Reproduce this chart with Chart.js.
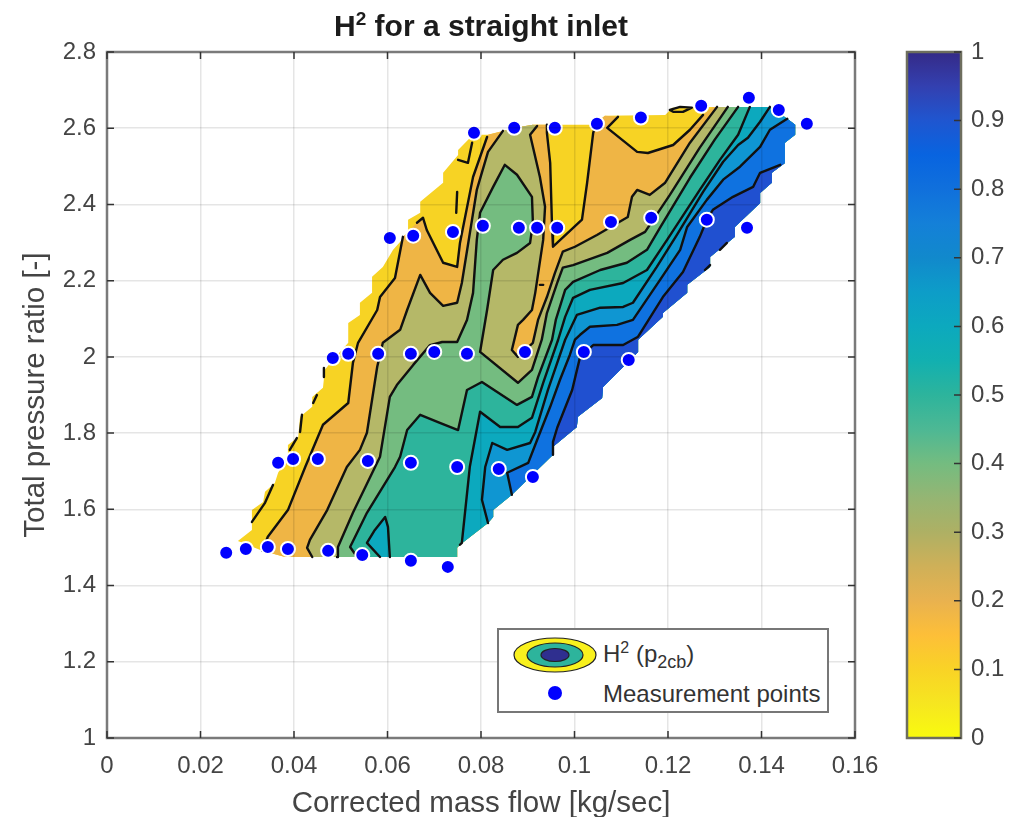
<!DOCTYPE html>
<html>
<head>
<meta charset="utf-8">
<title>H2 for a straight inlet</title>
<script src="https://cdn.jsdelivr.net/npm/chart.js@4"></script>
<style>
  html, body { margin: 0; background: #fff; }
  #page { position: relative; width: 1019px; height: 817px; overflow: hidden; font-family: "Liberation Sans", Arial, sans-serif; filter: blur(.55px); }
  canvas { position: absolute; top: 0; }
  #mapChart { left: 0; }
  #barChart { left: 880px; }
  #title { position: absolute; left: 107px; width: 748px; top: 8px; text-align: center; font-size: 30px; font-weight: bold; color: #1c1c1c; line-height: 36px; }
  #title sup { font-size: 19px; line-height: 0; }
  #legend { position: absolute; left: 497px; top: 628px; width: 328px; height: 81px; border: 2.5px solid #777; background: #fff; color: #333; font-size: 24px; }
  #legend svg { position: absolute; left: 0; top: 0; }
  #legend span { position: absolute; left: 104px; white-space: nowrap; }
  #legend sup { font-size: 16px; line-height: 0; }
  #legend sub { font-size: 18px; line-height: 0; }
</style>
</head>
<body>
<div id="page">
  <canvas id="mapChart" width="895" height="817"></canvas>
  <canvas id="barChart" width="139" height="817"></canvas>
  <div id="title">H<sup>2</sup> for a straight inlet</div>
  <div id="legend">
    <svg width="329" height="82">
      <ellipse cx="56" cy="25" rx="41" ry="17" fill="#f9f11e" stroke="#222" stroke-width="1.2"/>
      <ellipse cx="56" cy="25" rx="28" ry="12" fill="#2db49c" stroke="#222" stroke-width="1.2"/>
      <ellipse cx="56" cy="25" rx="14" ry="6.5" fill="#2f2f8f" stroke="#222" stroke-width="1.2"/>
      <circle cx="56" cy="63" r="7" fill="#0000ff"/>
    </svg>
    <span style="top:10px">H<sup>2</sup> (p<sub>2cb</sub>)</span>
    <span style="top:50px">Measurement points</span>
  </div>
</div>

<script>
/* ── Axes ──────────────────────────────────── */
const xTickValues = [0, 0.02, 0.04, 0.06, 0.08, 0.1, 0.12, 0.14, 0.16];
const yTickValues = [1, 1.2, 1.4, 1.6, 1.8, 2, 2.2, 2.4, 2.6, 2.8];
const barTickValues = [0, 0.1, 0.2, 0.3, 0.4, 0.5, 0.6, 0.7, 0.8, 0.9, 1];

/* ── Measurement points [mass flow, pressure ratio] ── */
const measured = [
  [.0255,1.486],[.0297,1.496],[.0344,1.501],[.0387,1.496],[.0473,1.491],[.0546,1.480],[.0650,1.465],[.0729,1.449],
  [.0366,1.722],[.0398,1.732],[.0451,1.732],[.0558,1.727],[.0650,1.722],[.0749,1.711],[.0838,1.706],[.0911,1.685],
  [.0483,1.997],[.0516,2.008],[.0580,2.008],[.0650,2.008],[.0700,2.013],[.0770,2.008],[.0894,2.013],[.1020,2.013],[.1116,1.992],
  [.0605,2.312],[.0655,2.318],[.0740,2.328],[.0804,2.344],[.0881,2.339],[.0920,2.339],[.0963,2.339],[.1078,2.354],[.1164,2.365],[.1283,2.360],[.1369,2.339],
  [.0785,2.588],[.0871,2.601],[.0958,2.601],[.1048,2.612],[.1142,2.628],[.1271,2.659],[.1373,2.680],[.1437,2.648],[.1497,2.612]
];

/* ── Region outline ────────────────────────── */
const edgeLeft = [
  [.0381,1.475],[.0332,1.491],[.0280,1.517],[.0310,1.546],[.0310,1.598],[.0334,1.619],[.0338,1.646],[.0359,1.669],[.0366,1.696],
  [.0387,1.738],[.0387,1.769],[.0409,1.790],[.0413,1.843],[.0439,1.869],[.0439,1.895],[.0462,1.919],[.0466,1.966],[.0483,1.992],
  [.0516,2.037],[.0516,2.089],[.0541,2.110],[.0541,2.142],[.0567,2.168],[.0567,2.210],[.0590,2.236],[.0612,2.281],[.0644,2.325],
  [.0644,2.360],[.0670,2.378],[.0670,2.407],[.0719,2.457],[.0719,2.483],[.0751,2.530],[.0751,2.543],[.0783,2.583]
];
const edgeTop = [
  [.0815,2.583],[.0847,2.593],[.0873,2.601],[.0911,2.609],[.1044,2.609],[.1065,2.633],[.1194,2.635],[.1209,2.654],[.1296,2.656]
];
const edgeRight = [
  [.1305,2.656],[.1328,2.656],[.1350,2.656],[.1375,2.656],[.1418,2.656],[.1455,2.625],[.1472,2.609],[.1472,2.583],[.1450,2.562],
  [.1450,2.509],[.1422,2.483],[.1422,2.457],[.1397,2.430],[.1397,2.404],[.1343,2.341],[.1343,2.315],[.1290,2.262],[.1290,2.236],
  [.1241,2.189],[.1241,2.168],[.1189,2.115],[.1189,2.105],[.1136,2.045],[.1136,2.013],[.1061,1.921],[.1059,1.892],[.1007,1.843],
  [.1005,1.816],[.0954,1.764],[.0954,1.743],[.0866,1.638],[.0826,1.598],[.0826,1.580],[.0815,1.564],[.0755,1.507],[.0749,1.499],[.0749,1.475]
];

/* ── Contour paths ─────────────────────────── */
const c1a = [[.0332,1.491],[.0344,1.528],[.0387,1.598],[.0424,1.711],[.0462,1.822],[.0516,1.879],[.0526,1.984],[.0537,2.037],[.0578,2.123],[.0584,2.157],[.0616,2.207],[.0633,2.315]];
const c1b = [[.0663,2.352],[.0676,2.365],[.0684,2.333],[.0719,2.247],[.0749,2.236],[.0755,2.299],[.0783,2.472],[.0813,2.577]];
const c1c = [[.0941,2.609],[.0941,2.588],[.0948,2.509],[.0952,2.341],[.0954,2.289],[.1016,2.360],[.1027,2.457],[.1040,2.588],[.1048,2.617]];
const c1d = [[.1093,2.630],[.1070,2.601],[.1134,2.538],[.1157,2.535],[.1211,2.556],[.1247,2.596],[.1275,2.635]];
const c2a = [[.0439,1.475],[.0428,1.499],[.0434,1.520],[.0471,1.598],[.0513,1.711],[.0541,1.756],[.0556,1.801],[.0578,1.974],[.0590,2.037],[.0627,2.071],[.0642,2.123],[.0670,2.215],[.0691,2.168],[.0719,2.134],[.0749,2.142],[.0759,2.194],[.0791,2.438],[.0815,2.538],[.0847,2.593]];
const c2b = [[.0920,2.606],[.0905,2.583],[.0926,2.472],[.0937,2.394],[.0933,2.307],[.0916,2.168],[.0909,2.123],[.0890,2.097],[.0879,2.084],[.0866,2.018],[.0879,2.000],[.0911,2.037],[.0922,2.097],[.0941,2.157],[.0958,2.220],[.0975,2.276],[.1001,2.289],[.1048,2.320],[.1114,2.367],[.1123,2.420],[.1134,2.438],[.1161,2.425],[.1194,2.457],[.1247,2.562],[.1305,2.656]];
const c3 = [[.0492,1.475],[.0494,1.501],[.0526,1.591],[.0584,1.738],[.0605,1.895],[.0620,1.926],[.0655,1.979],[.0691,2.031],[.0717,2.039],[.0749,2.039],[.0770,2.097],[.0783,2.168],[.0791,2.307],[.0798,2.378],[.0826,2.446],[.0851,2.504],[.0877,2.478],[.0909,2.420],[.0911,2.352],[.0905,2.299],[.0877,2.273],[.0847,2.255],[.0826,2.228],[.0813,2.123],[.0798,2.013],[.0879,1.932],[.0909,1.966],[.0930,2.045],[.0941,2.115],[.0963,2.194],[.0975,2.234],[.0997,2.241],[.1070,2.273],[.1119,2.307],[.1151,2.328],[.1204,2.425],[.1268,2.549],[.1328,2.656]];
const c4 = [[.0535,1.475],[.0520,1.501],[.0556,1.591],[.0616,1.711],[.0627,1.738],[.0642,1.808],[.0670,1.848],[.0712,1.827],[.0751,1.808],[.0770,1.913],[.0802,1.934],[.0877,1.874],[.0909,1.895],[.0922,1.947],[.0952,2.045],[.0960,2.097],[.0980,2.176],[.0997,2.197],[.1055,2.228],[.1112,2.247],[.1155,2.281],[.1183,2.339],[.1247,2.470],[.1300,2.570],[.1350,2.656]];
const c5 = [[.0755,1.507],[.0759,1.512],[.0776,1.711],[.0798,1.856],[.0841,1.816],[.0879,1.816],[.0909,1.840],[.0933,1.932],[.0965,2.045],[.0980,2.105],[.0997,2.155],[.1033,2.176],[.1104,2.194],[.1155,2.228],[.1198,2.307],[.1268,2.438],[.1311,2.517],[.1350,2.583],[.1375,2.656]];
const c6 = [[.0815,1.564],[.0802,1.625],[.0809,1.711],[.0824,1.774],[.0856,1.756],[.0905,1.774],[.0916,1.803],[.0943,1.913],[.0980,2.045],[.1005,2.110],[.1055,2.129],[.1104,2.131],[.1125,2.142],[.1176,2.236],[.1219,2.320],[.1275,2.433],[.1318,2.512],[.1350,2.556],[.1371,2.575],[.1397,2.617],[.1418,2.656]];
const c7 = [[.0866,1.638],[.0856,1.696],[.0901,1.722],[.0920,1.782],[.0948,1.869],[.0969,1.940],[.0990,2.005],[.1001,2.045],[.1012,2.058],[.1033,2.079],[.1091,2.084],[.1125,2.097],[.1183,2.202],[.1226,2.281],[.1241,2.341],[.1283,2.412],[.1318,2.465],[.1354,2.499],[.1397,2.551],[.1418,2.596],[.1455,2.625]];
const c8 = [[.0954,1.743],[.0954,1.777],[.0963,1.814],[.0995,1.913],[.1012,2.000],[.1040,2.031],[.1104,2.031],[.1136,2.053],[.1189,2.157],[.1232,2.223],[.1268,2.315],[.1283,2.360],[.1296,2.386],[.1339,2.420],[.1382,2.446],[.1397,2.483],[.1440,2.504]];
const island = [[.0584,1.475],[.0556,1.512],[.0573,1.546],[.0595,1.580],[.0601,1.554],[.0605,1.475]];
const smallMarks = [
  [[.0310,1.567],[.0338,1.617],[.0355,1.664]],
  [[.0391,1.756],[.0406,1.787]],
  [[.0413,1.803],[.0417,1.848]],
  [[.0441,1.879],[.0449,1.900]],
  [[.0464,1.947],[.0464,1.971]],
  [[.0749,2.433],[.0747,2.378]],
  [[.0781,2.562],[.0772,2.509],[.0751,2.517]],
  [[.1204,2.648],[.1226,2.656],[.1251,2.654],[.1232,2.643],[.1211,2.643],[.1204,2.648]],
  [[.1311,2.281],[.1326,2.299]],
  [[.1279,2.228],[.1290,2.241]],
  [[.0926,2.189],[.0933,2.189]]
];

/* ── Colours ───────────────────────────────── */
const bandColors = ['#f7d324', '#efb545', '#b5b868', '#74bc80', '#2db49c', '#0ca9be', '#0f96d2', '#0f72e0', '#2050d0'];
const barStops = [
  [0,'#f9fb0e'],[.05,'#f6e620'],[.1,'#f9d326'],[.15,'#fdbf38'],[.2,'#e9b24f'],[.25,'#cfb058'],[.3,'#aeb064'],[.35,'#95b573'],
  [.4,'#74bc80'],[.45,'#4db894'],[.5,'#2db49c'],[.55,'#12b0b0'],[.6,'#0ca9be'],[.65,'#0d9dc8'],[.7,'#1189cc'],[.75,'#1480d8'],
  [.8,'#1070dc'],[.85,'#0864e0'],[.9,'#1f56d0'],[.95,'#3340b0'],[1,'#352a87']
];

const pts = arr => arr.map(p => ({ x: p[0], y: p[1] }));

/* ── Filled bands, painted lowest level first ── */
const bands = [
  [...edgeLeft, ...edgeTop, ...edgeRight],
  [edgeLeft[0], ...c1a, ...c1b, ...edgeTop.slice(0, 4), ...c1c, edgeTop[5], ...c1d, edgeTop[8], ...edgeRight],
  [...c2a, ...edgeTop.slice(2, 4), ...c2b, ...edgeRight.slice(1)],
  [...c3, ...edgeRight.slice(2)],
  [...c4, ...edgeRight.slice(3)],
  [...c5, ...edgeRight.slice(4, 35)],
  [...c6, ...edgeRight.slice(5, 34)],
  [...c7, ...edgeRight.slice(6, 31)],
  [...c8, ...edgeRight.slice(9, 30)]
];
const contourLines = [c1a, c1b, c1c, c1d, c2a, c2b, c3, c4, c5, c6, c7, c8, island, ...smallMarks];

let drawOrder = 1000;
const datasets = [];
bands.forEach((b, i) => datasets.push({
  data: pts(b), showLine: true, fill: 'shape', backgroundColor: bandColors[i], borderWidth: 0, pointRadius: 0, order: drawOrder--
}));
datasets.push({
  data: pts(island), showLine: true, fill: 'shape', backgroundColor: bandColors[5], borderWidth: 0, pointRadius: 0, order: drawOrder--
});
contourLines.forEach(c => datasets.push({
  data: pts(c), showLine: true, fill: false, borderColor: '#111', borderWidth: 2.4, pointRadius: 0, borderJoinStyle: 'round', borderCapStyle: 'round', order: drawOrder--
}));
datasets.push({
  label: 'Measurement points', data: pts(measured), showLine: false, pointRadius: 7, pointBackgroundColor: '#0000ff',
  pointBorderColor: '#fff', pointBorderWidth: 2, order: 1, clip: false
});

/* ── Axes frame with inward ticks ──────────── */
const boxTicks = {
  id: 'boxTicks',
  afterDraw(chart) {
    const { ctx, chartArea: a, scales } = chart;
    const len = 7;
    const isMap = chart.canvas.id === 'mapChart';
    ctx.save();
    ctx.strokeStyle = isMap ? '#7a7a7a' : '#6e6e5e';
    ctx.lineWidth = 2.5;
    ctx.strokeRect(a.left, a.top, a.right - a.left, a.bottom - a.top);
    ctx.strokeStyle = '#333';
    ctx.lineWidth = 1.5;
    ctx.beginPath();
    if (isMap) {
      scales.x.ticks.forEach(t => {
        const px = scales.x.getPixelForValue(t.value);
        ctx.moveTo(px, a.bottom); ctx.lineTo(px, a.bottom - len);
        ctx.moveTo(px, a.top); ctx.lineTo(px, a.top + len);
      });
      scales.y.ticks.forEach(t => {
        const py = scales.y.getPixelForValue(t.value);
        ctx.moveTo(a.left, py); ctx.lineTo(a.left + len, py);
        ctx.moveTo(a.right, py); ctx.lineTo(a.right - len, py);
      });
    } else {
      scales.y.ticks.forEach(t => {
        const py = scales.y.getPixelForValue(t.value);
        ctx.moveTo(a.right, py); ctx.lineTo(a.right - len, py);
      });
    }
    ctx.stroke();
    ctx.restore();
  }
};

const tickFont = { family: '"Liberation Sans", Arial, sans-serif', size: 24 };
const titleFont = { family: '"Liberation Sans", Arial, sans-serif', size: 29.5 };

new Chart(document.getElementById('mapChart'), {
  type: 'scatter',
  data: { datasets },
  plugins: [boxTicks],
  options: {
    responsive: false,
    animation: false,
    layout: { padding: { top: 52, right: 40, left: 0, bottom: 0 } },
    plugins: { legend: { display: false }, tooltip: { enabled: false }, title: { display: false } },
    scales: {
      x: {
        type: 'linear', min: 0, max: 0.16,
        afterBuildTicks: s => { s.ticks = xTickValues.map(v => ({ value: v })); },
        afterFit: s => { s.height = 79; },
        grid: { color: 'rgba(0,0,0,.1)', lineWidth: 1.5, z: 1, drawTicks: false },
        border: { display: false },
        ticks: { color: '#444', font: tickFont, padding: 14, maxRotation: 0, autoSkip: false, callback: v => String(v) },
        title: { display: true, text: 'Corrected mass flow [kg/sec]', color: '#444', font: titleFont, padding: { top: 0, bottom: -5 } }
      },
      y: {
        type: 'linear', min: 1, max: 2.8,
        afterBuildTicks: s => { s.ticks = yTickValues.map(v => ({ value: v })); },
        afterFit: s => { s.width = 107; },
        grid: { color: 'rgba(0,0,0,.1)', lineWidth: 1.5, z: 1, drawTicks: false },
        border: { display: false },
        ticks: { color: '#444', font: tickFont, padding: 11, autoSkip: false, callback: v => String(v) },
        title: { display: true, text: 'Total pressure ratio [-]', color: '#444', font: titleFont, padding: { top: 18, bottom: 0 } }
      }
    }
  }
});

/* ── Colour bar ────────────────────────────── */
new Chart(document.getElementById('barChart'), {
  type: 'bar',
  data: {
    labels: [''],
    datasets: [{
      data: [[0, 1]],
      categoryPercentage: 1,
      barPercentage: 1,
      backgroundColor: ctx => {
        const a = ctx.chart.chartArea;
        if (!a) return '#888';
        const g = ctx.chart.ctx.createLinearGradient(0, a.bottom, 0, a.top);
        barStops.forEach(s => g.addColorStop(s[0], s[1]));
        return g;
      }
    }]
  },
  plugins: [boxTicks],
  options: {
    responsive: false,
    animation: false,
    layout: { padding: { top: 52, left: 27, right: 0, bottom: 79 } },
    plugins: { legend: { display: false }, tooltip: { enabled: false } },
    scales: {
      x: { display: false },
      y: {
        type: 'linear', position: 'right', min: 0, max: 1,
        afterBuildTicks: s => { s.ticks = barTickValues.map(v => ({ value: v })); },
        afterFit: s => { s.width = 58; },
        grid: { display: false },
        border: { display: false },
        ticks: { color: '#444', font: tickFont, padding: 2, autoSkip: false, callback: v => String(v) }
      }
    }
  }
});
</script>
</body>
</html>
